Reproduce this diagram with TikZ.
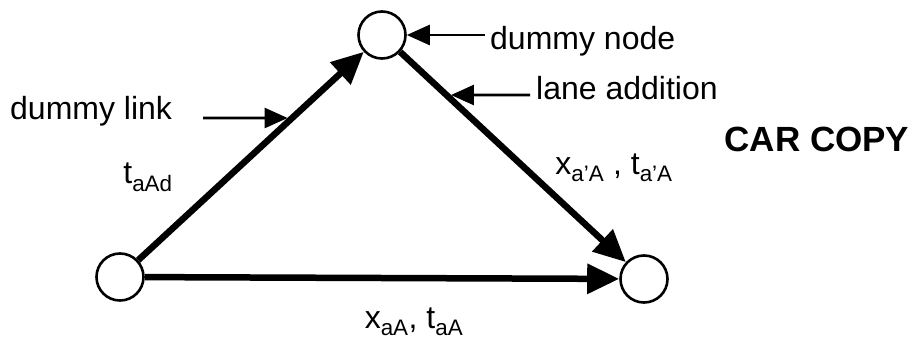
\documentclass[tikz,border=0pt]{standalone}
\usepackage{fontspec}
\setmainfont{Liberation Sans}
\usetikzlibrary{arrows.meta,calc}
\tikzset{
  netnode/.style={circle,draw,line width=2.6pt,minimum size=47pt,inner sep=0pt},
  link/.style={-{Triangle[length=32pt,width=29pt]},line width=6.5pt},
  note/.style={-{Triangle[length=23pt,width=20pt]},line width=2.6pt},
  lbl/.style={inner sep=0pt,font=\fontsize{32}{36}\selectfont},
  stamp/.style={inner sep=0pt,font=\fontsize{35}{40}\selectfont\bfseries}
}

\begin{document}
\begin{tikzpicture}[x=1pt,y=-1pt]
  \useasboundingbox (0,0) rectangle (913,348);
  \node[netnode] (orig) at (120,277) {};
  \node[netnode] (dnode) at (382,35) {};
  \node[netnode] (dest) at (644,279) {};
  \draw[link] (orig) -- (dnode); \draw[link] (dnode) -- (dest); \draw[link] (orig) -- (dest);
  \node[lbl,anchor=west] (dlink) at (10,111) {dummy link};
  \node[lbl] (tdum) at (148,177) {t\textsubscript{aAd}};
  \node[lbl,anchor=west] (dnodetxt) at (490,41) {dummy node};
  \node[lbl,anchor=west] (lanetxt) at (536,88) {lane addition};
  \node[lbl] (flowtop) at (614,168) {x\textsubscript{a'A} , t\textsubscript{a'A}};
  \node[lbl] (flowbot) at (414,322) {x\textsubscript{aA}, t\textsubscript{aA}};
  \node[stamp] (carcopy) at (817,139) {CAR COPY};
  \coordinate (dl-tail) at (203,118);
  \coordinate (dl-head) at ($(orig)!0.657!(dnode)$);
  \coordinate (dn-tail) at (485,35);
  \coordinate (la-tail) at (530,95);
  \coordinate (la-head) at ($(dnode)!0.246!(dest)$);
  \draw[note,shorten >=4.5pt] (dl-tail) -- (dl-head);
  \draw[note] (dn-tail) -- (dnode.east);
  \draw[note,shorten >=4.5pt] (la-tail) -- (la-head);
\end{tikzpicture}
\end{document}
